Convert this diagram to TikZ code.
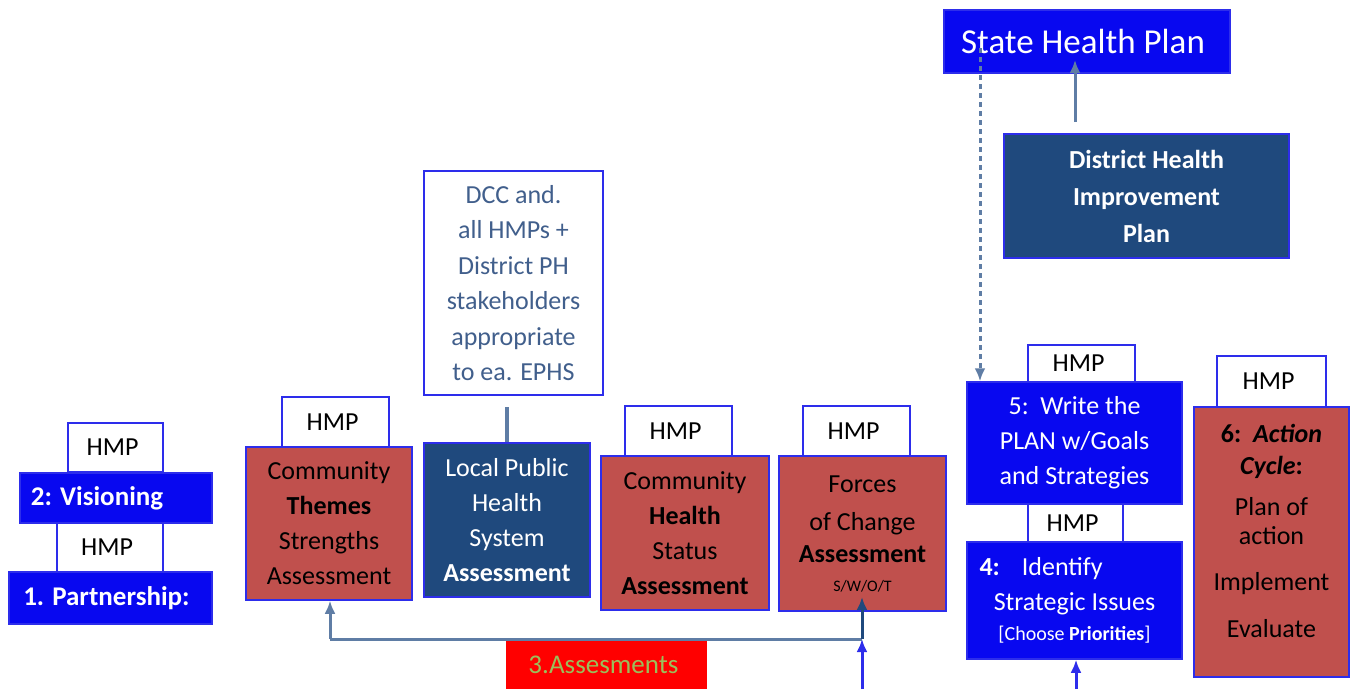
\documentclass[tikz,border=0pt]{standalone}
\usepackage{fontspec}
\setmainfont{Carlito}
\usetikzlibrary{arrows.meta}
\definecolor{boxblue}{RGB}{8,8,240}
\definecolor{lineblue}{RGB}{45,45,235}
\definecolor{navy}{RGB}{31,73,125}
\definecolor{brick}{RGB}{192,80,77}
\definecolor{steel}{RGB}{95,125,165}
\definecolor{dcctext}{RGB}{65,95,140}
\definecolor{assessgreen}{RGB}{155,190,90}
\definecolor{alarm}{RGB}{255,0,0}
\begin{document}
\begin{tikzpicture}[x=1pt,y=-1pt,>={Latex[length=13pt,width=11pt]},
  every node/.style={rectangle,inner sep=0pt,align=center,font=\fontsize{26}{35}\selectfont},
  hmp/.style={draw=lineblue,line width=1.5pt,fill=white,minimum width=107pt,minimum height=51pt},
  bluebox/.style={draw=lineblue,line width=1.5pt,fill=boxblue,text=white},
  navybox/.style={draw=lineblue,line width=1.5pt,fill=navy,text=white},
  redbox/.style={draw=lineblue,line width=1.5pt,fill=brick,text=black},
  conn/.style={draw=steel,line width=3pt}]
\useasboundingbox (0,0) rectangle (1353,689);
% top right
\node[bluebox,minimum width=286pt,minimum height=63pt,font=\fontsize{35}{40}\selectfont]
                 (shp)    at (1087,41.5)   { State Health Plan };
\node[navybox,minimum width=285pt,minimum height=124pt,font=\fontsize{26}{37}\selectfont\bfseries]
                 (dhip)   at (1146.5,196)  { District Health\\Improvement\\Plan };
% left stack
\node[hmp,minimum width=95pt,minimum height=49pt]
                 (hmpv)   at (115.5,447.5) { HMP };
\node[bluebox,minimum width=192pt,minimum height=50pt,font=\fontsize{27}{35}\selectfont\bfseries]
                 (vis)    at (116,498)     { \makebox[164pt][l]{2: Visioning} };
\node[hmp,minimum width=106pt,minimum height=49pt]
                 (hmpp)   at (110,547.5)   { HMP };
\node[bluebox,minimum width=203pt,minimum height=52pt,font=\fontsize{27}{35}\selectfont\bfseries]
                 (part)   at (110.5,598)   { 1. Partnership: };
% assessments
\node[hmp]       (hmpct)  at (335.5,422.5) { HMP };
\node[redbox,minimum width=166pt,minimum height=153pt]
                 (ctsa)   at (329,523.5)   { Community\\\textbf{Themes}\\Strengths\\Assessment };
\node[draw=lineblue,line width=1.5pt,fill=white,text=dcctext,minimum width=179pt,minimum height=224pt,font=\fontsize{26}{35.5}\selectfont]
                 (dcc)    at (513.5,283)   { DCC and.\\all HMPs +\\District PH\\stakeholders\\appropriate\\to ea. EPHS };
\node[navybox,minimum width=166pt,minimum height=154pt]
                 (lphs)   at (507,520)     { Local Public\\Health\\System\\\textbf{Assessment} };
\node[hmp]       (hmpch)  at (678.5,431.5) { HMP };
\node[redbox,minimum width=168pt,minimum height=154pt]
                 (chsa)   at (685,533)     { Community\\\textbf{Health}\\Status\\\textbf{Assessment} };
\node[hmp]       (hmpfc)  at (856.5,431.5) { HMP };
\node[redbox,minimum width=167pt,minimum height=155pt]
                 (fca)    at (862.5,533.5) { Forces\\[3pt]of Change\\[-3pt]\textbf{Assessment}\\[-6pt]{\fontsize{16}{20}\selectfont S/W/O/T} };
\node[fill=alarm,text=assessgreen,minimum width=201pt,minimum height=48pt,font=\fontsize{27}{35}\selectfont]
                 (assess) at (606.5,665)   { 3.Assesments };
% plan and action
\node[hmp,minimum height=37pt]
                 (hmp5)   at (1081.5,363.5){ HMP };
\node[bluebox,minimum width=215pt,minimum height=122pt]
                 (plan)   at (1074.5,443)  { 5:\ \ Write the\\PLAN w/Goals\\and Strategies };
\node[hmp,minimum width=95pt,minimum height=38pt]
                 (hmp4)   at (1075.5,523)  { HMP };
\node[bluebox,minimum width=215pt,minimum height=117pt]
                 (issues) at (1074.5,600.5){ \makebox[190pt][l]{\textbf{4:}\hspace{22pt}Identify}\\Strategic Issues\\[-5pt]{\fontsize{20}{24}\selectfont[Choose \textbf{Priorities}]} };
\node[hmp,minimum width=109pt]
                 (hmp6)   at (1271.5,381.5){ HMP };
\node[redbox,minimum width=155pt,minimum height=270pt]
                 (action) at (1271.5,542)  { \textbf{6:\ \ \textit{Action}}\\[-3pt]\textbf{\textit{Cycle}:}\\[6pt]Plan of\\[-6pt]action\\[11pt]Implement\\[12pt]Evaluate\\[-12pt]\mbox{} };
% connectors
\coordinate      (dhiptop) at (1075,122);
\coordinate      (shpin)   at (1075,60);
\coordinate      (shpdash) at (980,48);
\coordinate      (dccend)  at (507,407);
\coordinate      (ctjoin)  at (330,639);
\coordinate      (fcjoin)  at (862,639);
\coordinate      (swot)    at (862,597);
\coordinate      (fcbot)   at (862,689);
\coordinate      (isbot)   at (1076,689);
\draw[conn,->]   (dhiptop) -- (shpin);
\draw[conn,->,dash pattern=on 5pt off 4pt] (shpdash) -- (shpdash |- plan.north);
\draw[conn,line width=3.5pt] (dccend) -- (lphs.north);
\draw[conn,->]   (ctjoin) -- (ctjoin |- ctsa.south);
\draw[conn]      (ctjoin) -- (fcjoin);
\draw[conn,draw=navy,->] (fcjoin) -- (swot);
\draw[conn,draw=lineblue,->] (fcbot) -- (fcjoin);
\draw[conn,draw=lineblue,->] (isbot) -- (isbot |- issues.south);
\end{tikzpicture}
\end{document}
